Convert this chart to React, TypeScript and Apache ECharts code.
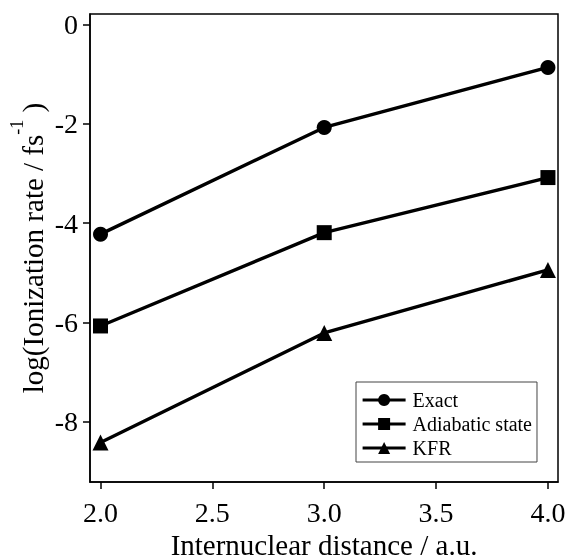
import React, { useEffect, useRef } from "react";
import * as echarts from "echarts";

const xValues = [2.0, 3.0, 4.0];
const exactValues = [-4.22, -2.07, -0.86];
const adiabaticValues = [-6.07, -4.19, -3.08];
const kfrValues = [-8.42, -6.21, -4.94];
const xTicks = [2.0, 2.5, 3.0, 3.5, 4.0];
const yTicks = [0, -2, -4, -6, -8];
const seriesNames = ["Exact", "Adiabatic state", "KFR"];
const seriesSymbols = ["circle", "rect", "triangle"];
const seriesSizes = [15, 15, 16];
const xAxisName = "Internuclear distance / a.u.";
const yAxisNameMain = "log(Ionization rate / fs";
const yAxisNameSup = "-1";
const yAxisNameEnd = " )";

const FONT = '"Liberation Serif", "Times New Roman", serif';

export default function App() {
  const ref = useRef<HTMLDivElement>(null);
  useEffect(() => {
    if (!ref.current) return;
    const chart = echarts.init(ref.current, undefined, { renderer: "svg" });
    const allValues = [exactValues, adiabaticValues, kfrValues];
    const series = allValues.map((vals, i) => ({
      name: seriesNames[i],
      type: "line",
      data: xValues.map((x, j) => [x, vals[j]]),
      symbol: seriesSymbols[i],
      symbolSize: seriesSizes[i],
      lineStyle: { color: "#000", width: 3.4 },
      itemStyle: { color: "#000" },
      emphasis: { disabled: true },
    }));
    chart.setOption({
      animation: false,
      grid: {
        left: 90,
        right: 11,
        top: 14,
        bottom: 76,
        containLabel: false,
        outerBoundsMode: "none",
        show: true,
        borderColor: "#000",
        borderWidth: 1.5,
        backgroundColor: "transparent",
      },
      xAxis: {
        type: "value",
        min: 1.953,
        max: 4.045,
        name: xAxisName,
        nameLocation: "middle",
        nameGap: 51,
        nameTextStyle: { fontFamily: FONT, fontSize: 29, lineHeight: 24, color: "#000" },
        axisLine: { show: true, onZero: false, lineStyle: { color: "#000", width: 1.5 } },
        axisTick: { show: true, inside: false, length: 7, customValues: xTicks, lineStyle: { color: "#000", width: 1.5 } },
        axisLabel: {
          customValues: xTicks,
          formatter: (v: number) => v.toFixed(1),
          fontFamily: FONT,
          fontSize: 28,
          color: "#000",
          margin: 16,
        },
        splitLine: { show: false },
      },
      yAxis: {
        type: "value",
        min: -9.214,
        max: 0.2156,
        axisLine: { show: true, onZero: false, lineStyle: { color: "#000", width: 1.5 } },
        axisTick: { show: true, inside: false, length: 7, customValues: yTicks, lineStyle: { color: "#000", width: 1.5 } },
        axisLabel: {
          customValues: yTicks,
          fontFamily: FONT,
          fontSize: 28,
          color: "#000",
          margin: 12,
        },
        splitLine: { show: false },
      },
      legend: {
        left: 356,
        top: 382,
        orient: "vertical",
        itemWidth: 43,
        itemHeight: 15,
        itemGap: 4,
        padding: [8, 5, 4, 5],
        borderColor: "#444",
        borderWidth: 1,
        backgroundColor: "#fff",
        selectedMode: false,
        itemStyle: { color: "#000" },
        lineStyle: { color: "#000", width: 3.2 },
        textStyle: { fontFamily: FONT, fontSize: 20, color: "#000", padding: [0, 0, 0, 2] },
        data: seriesNames,
      },
      graphic: [
        {
          type: "text",
          x: 47.5,
          y: 248,
          rotation: Math.PI / 2,
          style: {
            text: `{m|${yAxisNameMain}}{s|${yAxisNameSup}}{m|${yAxisNameEnd}}`,
            align: "center",
            verticalAlign: "bottom",
            fill: "#000",
            rich: {
              m: { fontFamily: FONT, fontSize: 29, lineHeight: 30, verticalAlign: "bottom", fill: "#000" },
              s: { fontFamily: FONT, fontSize: 18, lineHeight: 44, verticalAlign: "top", padding: [4, 0, 0, 0], fill: "#000" },
            },
          },
        },
      ],
      series,
    });
    return () => chart.dispose();
  }, []);
  return <div ref={ref} style={{ position: "fixed", left: 0, top: 0, width: 569, height: 558 }} />;
}
